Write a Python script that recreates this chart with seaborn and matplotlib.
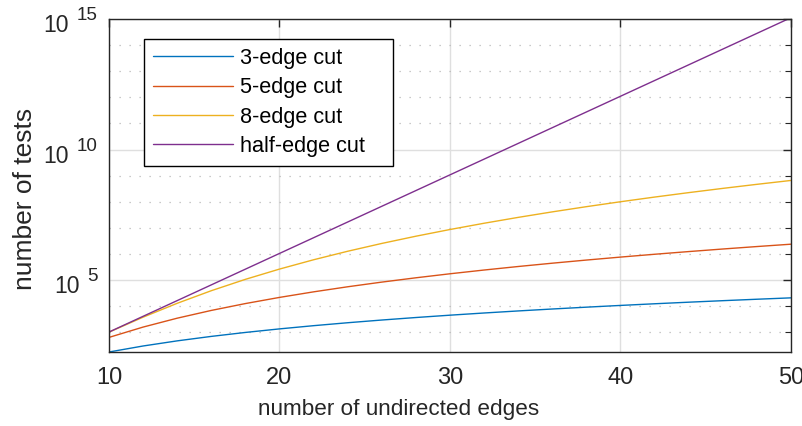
import numpy as np
import pandas as pd
import matplotlib
matplotlib.use('Agg')
import matplotlib.pyplot as plt
import matplotlib.transforms as mtransforms
import seaborn as sns

# number of undirected edges
edges = [10, 12, 14, 16, 18, 20, 22, 24, 26, 28, 30,
         32, 34, 36, 38, 40, 42, 44, 46, 48, 50]

# number of tests
cut3 = [176, 299, 470, 697, 988, 1351, 1794, 2325, 2952, 3683, 4526,
        5489, 6580, 7807, 9178, 10701, 12384, 14235, 16262, 18473, 20876]
cut5 = [638, 1586, 3473, 6885, 12616, 21700, 35443, 55455, 83682, 122438, 174437,
        242825, 331212, 443704, 584935, 760099, 974982, 1236000, 1550200, 1925400, 2369900]
cut8 = [1013, 3797, 12911, 39203, 106762, 263950, 600370, 1271626, 2533987, 4791323, 8656937,
        1.5033e7, 2.5212e7, 4.1000e7, 6.4869e7, 1.0015e8, 1.5123e8, 2.2385e8, 3.2537e8, 4.6517e8, 6.5502e8]
cut_half = [1.024e3, 4.096e3, 1.638e4, 6.554e4, 2.621e5, 1.049e6, 4.194e6, 1.678e7, 6.711e7, 2.684e8, 1.074e9,
            4.295e9, 1.718e10, 6.872e10, 2.749e11, 1.100e12, 4.398e12, 1.759e13, 7.037e13, 2.815e14, 1.126e15]

labels = ['3-edge cut', '5-edge cut', '8-edge cut', 'half-edge cut']
colors = ['#0072BD', '#D95319', '#EDB120', '#7E2F8E']

ytick_exp = [5, 10, 15]
xticks = [10, 20, 30, 40, 50]

df = pd.DataFrame({
    'edges': edges * 4,
    'tests': cut3 + cut5 + cut8 + cut_half,
    'cut': np.repeat(labels, len(edges)),
})

sns.set_style('white')
plt.rcParams['font.family'] = ['Liberation Sans', 'DejaVu Sans']

fig = plt.figure(figsize=(8.03, 4.26), dpi=100)
ax = fig.add_axes([109 / 803, 1 - 352 / 426, 682 / 803, 333 / 426])

sns.lineplot(data=df, x='edges', y='tests', hue='cut', palette=colors,
             linewidth=1.0, ax=ax, legend=True)
ax.set_yscale('log')
ax.set_xlim(10, 50)
ax.set_ylim(cut3[0], 1e15)

dark = '#262626'
ax.set_xticks(xticks)
ax.set_yticks([10.0 ** e for e in ytick_exp])
ax.set_yticks([10.0 ** k for k in range(3, 15) if k % 5], minor=True)
ax.tick_params(axis='both', which='major', direction='in', length=6, width=1,
               labelsize=17, colors=dark, top=True, right=True, pad=11,
               labelleft=False)
ax.tick_params(axis='y', which='minor', direction='in', length=4, width=0.8,
               colors=dark, right=True, labelleft=False)
ax.tick_params(axis='x', which='minor', bottom=False, top=False)

# y tick labels in the "10 ^ n" style
ytr = ax.get_yaxis_transform()
for e in ytick_exp:
    s = str(e)
    exp_tr = mtransforms.offset_copy(ytr, fig=fig, x=-11, y=-1, units='dots')
    ax.text(0, 10.0 ** e, s, transform=exp_tr, ha='right', va='baseline',
            fontsize=13.6, color=dark, clip_on=False)
    main_tr = mtransforms.offset_copy(ytr, fig=fig, x=-11 - 10.5 * len(s) - 8,
                                      y=-13, units='dots')
    ax.text(0, 10.0 ** e, '10', transform=main_tr, ha='right', va='baseline',
            fontsize=16.5, color=dark, clip_on=False)

ax.grid(True, which='major', color='#dfdfdf', linewidth=1, linestyle='-')
ax.grid(True, which='minor', axis='y', color='#b8b8b8', linewidth=0.9, linestyle=(0, (1, 7)))
ax.set_axisbelow(True)

for s in ax.spines.values():
    s.set_color(dark)
    s.set_linewidth(1)
    s.set_visible(True)

ax.set_xlabel('number of undirected edges', fontsize=16.2, color=dark)
ax.xaxis.set_label_coords(0.424, -0.142)
ax.xaxis.label.set_va('top')
ax.set_ylabel('number of tests', fontsize=19, color=dark)
ax.yaxis.set_label_coords(-0.106, 0.46)

# legend box spans x 144..393 px, top at 39 px
leg = ax.legend(loc='upper left', bbox_to_anchor=(0.0513, 0.5, 0.365, 0.44),
                mode='expand', borderaxespad=0,
                fontsize=15.6, handlelength=3.7, frameon=True, fancybox=False,
                framealpha=1, edgecolor='black', borderpad=0.4, labelspacing=0.39,
                handletextpad=0.35)
leg.get_frame().set_linewidth(1)
for line in leg.get_lines():
    line.set_linewidth(1.0)
for t in leg.get_texts():
    t.set_color('black')

fig.savefig('out.png', dpi=100)
